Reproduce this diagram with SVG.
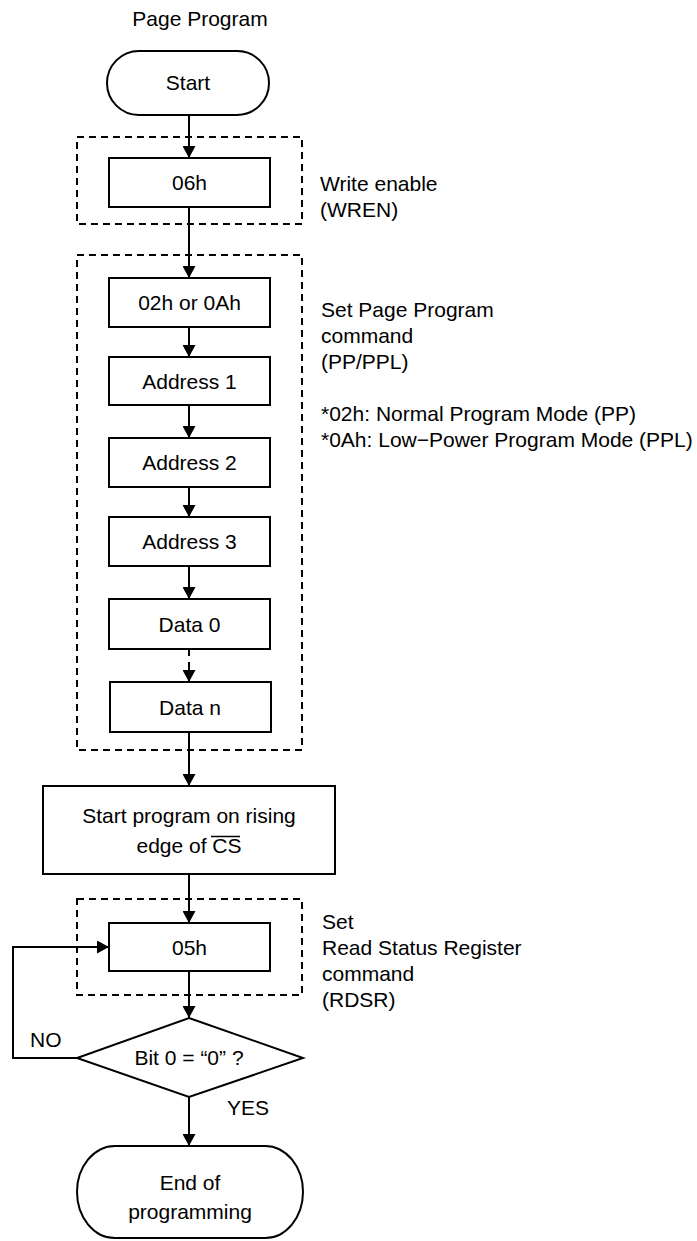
<svg xmlns="http://www.w3.org/2000/svg" width="697" height="1241" viewBox="0 0 697 1241">
<defs>
<marker id="arr" markerUnits="userSpaceOnUse" markerWidth="12" markerHeight="13" refX="12" refY="6.5" orient="auto">
<path d="M0,0 L12,6.5 L0,13 z" fill="#000"/>
</marker>
<style>
text{font-family:"Liberation Sans",Arial,sans-serif;font-size:21px;fill:#000}
.c{text-anchor:middle}
.box{fill:#fff;stroke:#000;stroke-width:2}
.grp{fill:none;stroke:#000;stroke-width:2;stroke-dasharray:7 5}
.ln{fill:none;stroke:#000;stroke-width:2}
.ar{marker-end:url(#arr)}
</style>
</defs>
<rect width="697" height="1241" fill="#fff"/>

<text id="title" class="c" x="200" y="26">Page Program</text>

<g id="groups">
<rect id="grp-wren" class="grp" x="77" y="137" width="225" height="87"/>
<rect id="grp-pp" class="grp" x="77" y="255" width="225" height="495"/>
<rect id="grp-rdsr" class="grp" x="77" y="899" width="225" height="96"/>
</g>

<g id="connectors">
<line class="ln ar" x1="189" y1="115" x2="189" y2="158"/>
<line class="ln ar" x1="189" y1="207" x2="189" y2="278"/>
<line class="ln ar" x1="189" y1="327" x2="189" y2="357"/>
<line class="ln ar" x1="189" y1="405" x2="189" y2="438"/>
<line class="ln ar" x1="189" y1="487" x2="189" y2="517"/>
<line class="ln ar" x1="189" y1="566" x2="189" y2="599"/>
<path class="ln ar" d="M189,650 V656 M189,662 V682"/>
<line class="ln ar" x1="189" y1="732" x2="189" y2="786"/>
<line class="ln ar" x1="189" y1="874" x2="189" y2="923"/>
<line class="ln ar" x1="189" y1="971" x2="189" y2="1018"/>
<line class="ln ar" x1="189" y1="1097" x2="189" y2="1146"/>
<path class="ln ar" d="M77,1058 H13 V947 H109"/>
<text id="lbl-no" x="30" y="1047">NO</text>
<text id="lbl-yes" x="227" y="1115">YES</text>
</g>

<g id="n-start">
<rect class="box" x="107" y="51" width="162" height="64" rx="32" ry="32"/>
<text class="c" x="188" y="90">Start</text>
</g>

<g id="n-06h">
<rect class="box" x="109" y="158" width="161" height="49"/>
<text class="c" x="189.5" y="190">06h</text>
</g>

<g id="n-02h">
<rect class="box" x="109" y="278" width="161" height="49"/>
<text class="c" x="189.5" y="310">02h or 0Ah</text>
</g>

<g id="n-addr1">
<rect class="box" x="109" y="357" width="161" height="48"/>
<text class="c" x="189.5" y="388.5">Address 1</text>
</g>

<g id="n-addr2">
<rect class="box" x="109" y="438" width="161" height="49"/>
<text class="c" x="189.5" y="470">Address 2</text>
</g>

<g id="n-addr3">
<rect class="box" x="109" y="517" width="161" height="49"/>
<text class="c" x="189.5" y="549">Address 3</text>
</g>

<g id="n-data0">
<rect class="box" x="109" y="599" width="161" height="50"/>
<text class="c" x="189.5" y="631.5">Data 0</text>
</g>

<g id="n-datan">
<rect class="box" x="110" y="682" width="161" height="50"/>
<text class="c" x="190" y="714.5">Data n</text>
</g>

<g id="n-startprog">
<rect class="box" x="43" y="786" width="292" height="88"/>
<text class="c" x="189" y="823">Start program on rising</text>
<text class="c" x="189" y="853">edge of CS</text>
<line x1="211" y1="836.5" x2="240" y2="836.5" stroke="#000" stroke-width="1.5"/>
</g>

<g id="n-05h">
<rect class="box" x="109" y="923" width="161" height="48"/>
<text class="c" x="189.5" y="954.5">05h</text>
</g>

<g id="n-bit0">
<polygon class="box" points="189,1018 303,1058 189,1097 77,1058"/>
<text class="c" x="189" y="1065">Bit 0 = “0” ?</text>
</g>

<g id="n-end">
<rect class="box" x="77" y="1146" width="226" height="92" rx="38" ry="46"/>
<text class="c" x="190" y="1190">End of</text>
<text class="c" x="190" y="1219">programming</text>
</g>

<g id="notes">
<text x="320" y="191">Write enable</text>
<text x="320" y="217">(WREN)</text>
<text x="321" y="317">Set Page Program</text>
<text x="321" y="343">command</text>
<text x="321" y="369">(PP/PPL)</text>
<text x="321" y="421">*02h: Normal Program Mode (PP)</text>
<text x="321" y="447">*0Ah: Low−Power Program Mode (PPL)</text>
<text x="322" y="929">Set</text>
<text x="322" y="955">Read Status Register</text>
<text x="322" y="981">command</text>
<text x="322" y="1007">(RDSR)</text>
</g>
</svg>
